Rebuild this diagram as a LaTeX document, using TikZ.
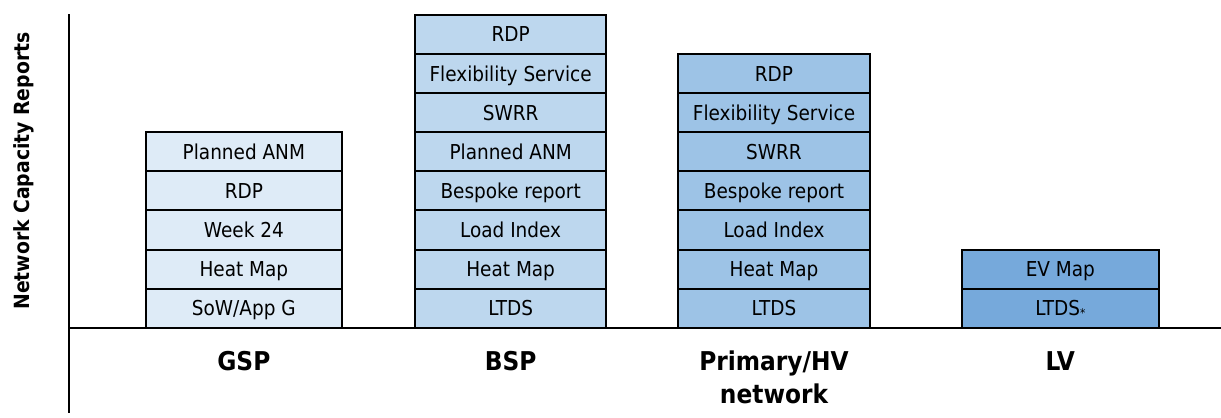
\documentclass[tikz,border=0pt]{standalone}
\usepackage{fontspec}
\setmainfont{DejaVu Sans Condensed}
\begin{document}
\begin{tikzpicture}[x=1bp,y=-1bp,
  cell/.style={draw=black,line width=2bp,minimum height=39.1bp,inner sep=0pt,
    font=\fontsize{20.6}{22}\selectfont,text height=15bp,text depth=0bp},
  collabel/.style={font=\fontsize{26}{32.6}\selectfont\bfseries,align=center,anchor=base},
  axis/.style={line width=2bp,black}]
\definecolor{gspc}{HTML}{DEEBF7}
\definecolor{bspc}{HTML}{BDD7EE}
\definecolor{pric}{HTML}{9DC3E6}
\definecolor{lvc}{HTML}{76A9DB}
\useasboundingbox (0,0) rectangle (1221,417);
% columns
\foreach \t [count=\i] in {SoW/App G,Heat Map,Week 24,RDP,Planned ANM}
  \node[cell,fill=gspc,minimum width=196.3bp] (gsp\i) at (243.85,{308.15-(\i-1)*39.1}) {\t};
\foreach \t [count=\i] in {LTDS,Heat Map,Load Index,Bespoke report,Planned ANM,SWRR,Flexibility Service,RDP}
  \node[cell,fill=bspc,minimum width=190.7bp] (bsp\i) at (510.65,{308.15-(\i-1)*39.1}) {\t};
\foreach \t [count=\i] in {LTDS,Heat Map,Load Index,Bespoke report,SWRR,Flexibility Service,RDP}
  \node[cell,fill=pric,minimum width=191.4bp] (pri\i) at (774,{308.15-(\i-1)*39.1}) {\t};
\node[cell,fill=lvc,minimum width=196.7bp] (lv1) at (1060.35,308.15) {LTDS\raisebox{-1.5bp}{\fontsize{12}{12}\selectfont *}};
\node[cell,fill=lvc,minimum width=196.7bp] (lv2) at (1060.35,269.05) {EV Map};
% axes
\coordinate (ytop) at (69,14);
\coordinate (ybot) at (69,413);
\coordinate (xl) at (68,327.7);
\coordinate (xr) at (1221,327.7);
\draw[axis] (ytop) -- (ybot);
\draw[axis] (xl) -- (xr);
% labels
\node[collabel] (lgsp) at (243.85,370.7) {GSP};
\node[collabel] (lbsp) at (510.65,370.7) {BSP};
\node[collabel] (lpri) at (774,403.3) {Primary/HV\\network};
\node[collabel] (llv) at (1060.35,370.5) {LV};
\node[font=\fontsize{21}{24}\selectfont\bfseries,rotate=90,anchor=base] (ylab) at (29.5,171) {Network Capacity Reports};
\end{tikzpicture}
\end{document}
